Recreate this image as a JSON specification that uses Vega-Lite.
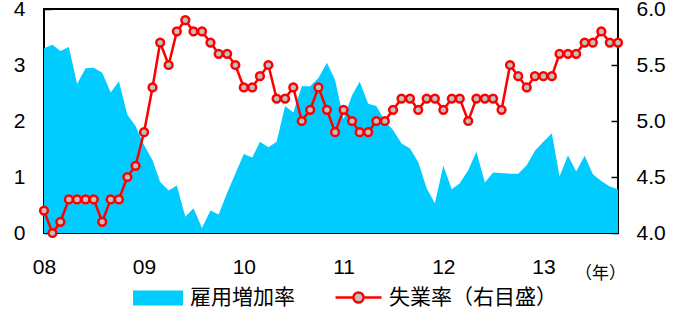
{
  "$schema": "https://vega.github.io/schema/vega-lite/v6.json",
  "width": 574,
  "height": 224,
  "autosize": {"type": "none"},
  "padding": {"left": 44, "top": 9, "right": 64, "bottom": 81},
  "background": "white",
  "title": {"text": "失業率と雇用増加率の推移", "anchor": "start", "frame": "group", "dx": 156, "dy": 10, "offset": 0, "baseline": "alphabetic", "fontSize": 18, "font": "Noto Sans CJK JP", "fontWeight": "normal", "color": "black"},
  "config": {
    "view": {"stroke": "black", "strokeWidth": 2},
    "axis": {"grid": false, "domain": false, "tickColor": "black", "tickWidth": 1.5, "labelColor": "black", "labelFont": "Liberation Sans", "labelFontSize": 21}
  },
  "data": {"values": [
    {"date": "2008/01/01", "emp": 3.30, "unemp": 4.2},
    {"date": "2008/02/01", "emp": 3.36, "unemp": 4.0},
    {"date": "2008/03/01", "emp": 3.25, "unemp": 4.1},
    {"date": "2008/04/01", "emp": 3.32, "unemp": 4.3},
    {"date": "2008/05/01", "emp": 2.66, "unemp": 4.3},
    {"date": "2008/06/01", "emp": 2.94, "unemp": 4.3},
    {"date": "2008/07/01", "emp": 2.95, "unemp": 4.3},
    {"date": "2008/08/01", "emp": 2.86, "unemp": 4.1},
    {"date": "2008/09/01", "emp": 2.51, "unemp": 4.3},
    {"date": "2008/10/01", "emp": 2.71, "unemp": 4.3},
    {"date": "2008/11/01", "emp": 2.11, "unemp": 4.5},
    {"date": "2008/12/01", "emp": 1.91, "unemp": 4.6},
    {"date": "2009/01/01", "emp": 1.57, "unemp": 4.9},
    {"date": "2009/02/01", "emp": 1.30, "unemp": 5.3},
    {"date": "2009/03/01", "emp": 0.91, "unemp": 5.7},
    {"date": "2009/04/01", "emp": 0.76, "unemp": 5.5},
    {"date": "2009/05/01", "emp": 0.85, "unemp": 5.8},
    {"date": "2009/06/01", "emp": 0.29, "unemp": 5.9},
    {"date": "2009/07/01", "emp": 0.44, "unemp": 5.8},
    {"date": "2009/08/01", "emp": 0.09, "unemp": 5.8},
    {"date": "2009/09/01", "emp": 0.40, "unemp": 5.7},
    {"date": "2009/10/01", "emp": 0.33, "unemp": 5.6},
    {"date": "2009/11/01", "emp": 0.72, "unemp": 5.6},
    {"date": "2009/12/01", "emp": 1.06, "unemp": 5.5},
    {"date": "2010/01/01", "emp": 1.41, "unemp": 5.3},
    {"date": "2010/02/01", "emp": 1.35, "unemp": 5.3},
    {"date": "2010/03/01", "emp": 1.63, "unemp": 5.4},
    {"date": "2010/04/01", "emp": 1.53, "unemp": 5.5},
    {"date": "2010/05/01", "emp": 1.63, "unemp": 5.2},
    {"date": "2010/06/01", "emp": 2.27, "unemp": 5.2},
    {"date": "2010/07/01", "emp": 2.15, "unemp": 5.3},
    {"date": "2010/08/01", "emp": 2.62, "unemp": 5.0},
    {"date": "2010/09/01", "emp": 2.62, "unemp": 5.1},
    {"date": "2010/10/01", "emp": 2.77, "unemp": 5.3},
    {"date": "2010/11/01", "emp": 3.04, "unemp": 5.1},
    {"date": "2010/12/01", "emp": 2.73, "unemp": 4.9},
    {"date": "2011/01/01", "emp": 2.03, "unemp": 5.1},
    {"date": "2011/02/01", "emp": 2.46, "unemp": 5.0},
    {"date": "2011/03/01", "emp": 2.70, "unemp": 4.9},
    {"date": "2011/04/01", "emp": 2.31, "unemp": 4.9},
    {"date": "2011/05/01", "emp": 2.27, "unemp": 5.0},
    {"date": "2011/06/01", "emp": 2.00, "unemp": 5.0},
    {"date": "2011/07/01", "emp": 1.84, "unemp": 5.1},
    {"date": "2011/08/01", "emp": 1.60, "unemp": 5.2},
    {"date": "2011/09/01", "emp": 1.51, "unemp": 5.2},
    {"date": "2011/10/01", "emp": 1.27, "unemp": 5.1},
    {"date": "2011/11/01", "emp": 0.80, "unemp": 5.2},
    {"date": "2011/12/01", "emp": 0.53, "unemp": 5.2},
    {"date": "2012/01/01", "emp": 1.20, "unemp": 5.1},
    {"date": "2012/02/01", "emp": 0.78, "unemp": 5.2},
    {"date": "2012/03/01", "emp": 0.89, "unemp": 5.2},
    {"date": "2012/04/01", "emp": 1.12, "unemp": 5.0},
    {"date": "2012/05/01", "emp": 1.45, "unemp": 5.2},
    {"date": "2012/06/01", "emp": 0.90, "unemp": 5.2},
    {"date": "2012/07/01", "emp": 1.08, "unemp": 5.2},
    {"date": "2012/08/01", "emp": 1.07, "unemp": 5.1},
    {"date": "2012/09/01", "emp": 1.06, "unemp": 5.5},
    {"date": "2012/10/01", "emp": 1.06, "unemp": 5.4},
    {"date": "2012/11/01", "emp": 1.21, "unemp": 5.3},
    {"date": "2012/12/01", "emp": 1.47, "unemp": 5.4},
    {"date": "2013/01/01", "emp": 1.63, "unemp": 5.4},
    {"date": "2013/02/01", "emp": 1.78, "unemp": 5.4},
    {"date": "2013/03/01", "emp": 1.01, "unemp": 5.6},
    {"date": "2013/04/01", "emp": 1.39, "unemp": 5.6},
    {"date": "2013/05/01", "emp": 1.10, "unemp": 5.6},
    {"date": "2013/06/01", "emp": 1.38, "unemp": 5.7},
    {"date": "2013/07/01", "emp": 1.05, "unemp": 5.7},
    {"date": "2013/08/01", "emp": 0.93, "unemp": 5.8},
    {"date": "2013/09/01", "emp": 0.83, "unemp": 5.7},
    {"date": "2013/10/01", "emp": 0.78, "unemp": 5.7}
  ]},
  "layer": [
    {
      "mark": {"type": "area", "interpolate": "linear", "opacity": 1},
      "encoding": {
        "x": {"field": "date", "type": "temporal",
              "scale": {"domain": [{"year": 2008, "month": 1, "date": 1}, {"year": 2013, "month": 10, "date": 1}]},
              "axis": {"format": "%y", "tickCount": {"interval": "year", "step": 1}, "tickSize": -7, "labelPadding": 30, "labelFlush": false,
                       "title": "（年）", "titleX": 556, "titleY": 40, "titleAlign": "center", "titleBaseline": "middle", "titleFontSize": 17, "titleFontWeight": "normal", "titleFont": "Noto Sans CJK JP", "titleColor": "black"}},
        "y": {"field": "emp", "type": "quantitative", "scale": {"domain": [0, 4]},
              "axis": {"orient": "left", "values": [0, 1, 2, 3, 4], "tickSize": -7, "labelPadding": 26, "title": null}},
        "fill": {"datum": "雇用増加率", "type": "nominal", "scale": {"domain": ["雇用増加率"], "range": ["#00ccff"]},
                 "legend": {"orient": "none", "legendX": 89, "legendY": 264, "title": null, "padding": 0,
                            "symbolType": "M-1,-0.3H1V0.3H-1Z", "symbolSize": 2500, "symbolStrokeWidth": 0, "symbolOpacity": 1,
                            "labelFont": "Noto Sans CJK JP", "labelFontSize": 21, "labelColor": "black", "labelOffset": 7, "labelLimit": 300}}
      }
    },
    {
      "mark": {"type": "line", "strokeWidth": 2.5},
      "encoding": {
        "x": {"field": "date", "type": "temporal"},
        "y": {"field": "unemp", "type": "quantitative", "scale": {"domain": [4, 6]},
              "axis": {"orient": "right", "values": [4, 4.5, 5, 5.5, 6], "format": ".1f", "tickSize": -7, "labelPadding": 25, "title": null}},
        "stroke": {"datum": "失業率（右目盛）", "type": "nominal", "scale": {"domain": ["失業率（右目盛）"], "range": ["#ff0000"]},
                   "legend": {"orient": "none", "legendX": 290, "legendY": 264, "title": null, "padding": 0,
                              "symbolType": "M-1,0H-0.22M0.22,0H1M0.22,0A0.22,0.22 0 1,1 -0.22,0A0.22,0.22 0 1,1 0.22,0", "symbolSize": 2116,
                              "labelFont": "Noto Sans CJK JP", "labelFontSize": 21, "labelColor": "black", "labelOffset": 6, "labelLimit": 300,
                              "encode": {"symbols": {"update": {"fill": {"value": "#c0c0c0"}, "stroke": {"value": "#ff0000"}, "strokeWidth": {"value": 2.5}, "opacity": {"value": 1}}}}}}
      }
    },
    {
      "mark": {"type": "point", "shape": "circle", "filled": true, "fill": "#c0c0c0", "stroke": "#ff0000", "strokeWidth": 2.5, "size": 60, "opacity": 1},
      "encoding": {
        "x": {"field": "date", "type": "temporal"},
        "y": {"field": "unemp", "type": "quantitative", "scale": {"domain": [4, 6]}, "axis": null}
      }
    }
  ],
  "resolve": {"scale": {"y": "independent", "fill": "independent", "stroke": "independent"}}
}
